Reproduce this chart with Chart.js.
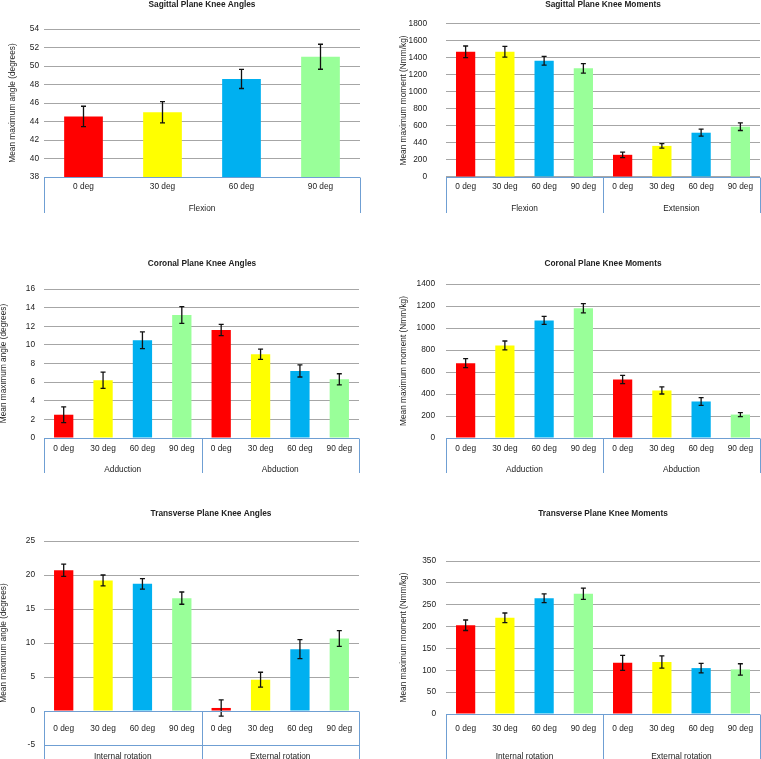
<!DOCTYPE html>
<html lang="en">
<head>
<meta charset="UTF-8">
<title>Knee angles and moments</title>
<script src="https://cdn.jsdelivr.net/npm/chart.js"></script>
<style>
  body { margin: 0; background: #fff; }
  #page { position: relative; width: 761px; height: 759px; overflow: hidden; }
  canvas { position: absolute; }
</style>
</head>
<body>
<div id="page">
  <canvas id="sagAngle"></canvas>
  <canvas id="sagMoment"></canvas>
  <canvas id="corAngle"></canvas>
  <canvas id="corMoment"></canvas>
  <canvas id="traAngle"></canvas>
  <canvas id="traMoment"></canvas>
</div>
<script>
// categories
const speeds = ['0 deg', '30 deg', '60 deg', '90 deg'];
const barColors = ['#ff0000', '#ffff00', '#00b0f0', '#99ff99'];

// sagittal plane
const sagAngleGroups = ['Flexion'];
const sagAngleMean = [44.55, 45.0, 48.6, 51.0];
const sagAngleErr = [1.1, 1.15, 1.03, 1.35];

const sagMomentGroups = ['Flexion', 'Extension'];
const sagMomentMean = [1473, 1473, 1368, 1278, 261, 366, 521, 592];
const sagMomentErr = [68, 63, 52, 55, 32, 27, 41, 45];
const sagMomentTicks = ['0', '200', '440', '600', '800', '1000', '1200', '1400', '1600', '1800'];

// coronal plane
const corAngleGroups = ['Adduction', 'Abduction'];
const corAngleMean = [2.5, 6.2, 10.5, 13.2, 11.6, 9.0, 7.2, 6.3];
const corAngleErr = [0.84, 0.87, 0.9, 0.9, 0.6, 0.55, 0.65, 0.6];

const corMomentGroups = ['Adduction', 'Abduction'];
const corMomentMean = [680, 842, 1069, 1179, 532, 432, 332, 213];
const corMomentErr = [41, 40, 36, 42, 37, 32, 35, 18];

// transverse plane
const traAngleGroups = ['Internal rotation', 'External rotation'];
const traAngleMean = [20.7, 19.2, 18.7, 16.6, 0.45, 4.6, 9.1, 10.66];
const traAngleErr = [0.9, 0.8, 0.77, 0.9, 1.2, 1.1, 1.4, 1.15];

const traMomentGroups = ['Internal rotation', 'External rotation'];
const traMomentMean = [203, 220, 265, 275, 117, 119, 105, 102];
const traMomentErr = [12, 11, 10, 13, 17, 14, 11, 13];

const FONT = '"Liberation Sans", Arial, sans-serif';
const FS = 8.3;
const GRID = '#a6a6a6';
const BOX = '#6f9fd3';
const TEXT = '#222';

// error bars, category box and titles
const decorPlugin = {
  id: 'decor',
  afterDatasetsDraw(chart) {
    const ctx = chart.ctx;
    const y = chart.scales.y;
    const ds = chart.data.datasets[0];
    const meta = chart.getDatasetMeta(0);
    ctx.save();
    ctx.strokeStyle = '#111';
    ctx.lineWidth = 1.3;
    meta.data.forEach((bar, i) => {
      const top = y.getPixelForValue(ds.data[i] + ds.errors[i]);
      const bot = y.getPixelForValue(ds.data[i] - ds.errors[i]);
      ctx.beginPath();
      ctx.moveTo(bar.x, top); ctx.lineTo(bar.x, bot);
      ctx.moveTo(bar.x - 2.5, top); ctx.lineTo(bar.x + 2.5, top);
      ctx.moveTo(bar.x - 2.5, bot); ctx.lineTo(bar.x + 2.5, bot);
      ctx.stroke();
    });
    ctx.restore();
  },
  afterDraw(chart, args, o) {
    const ctx = chart.ctx;
    const x = chart.scales.x;
    const y = chart.scales.y;
    const area = chart.chartArea;
    const n = chart.data.labels.length;
    const boxTop = Math.round(y.getPixelForValue(o.boxTopValue)) + 0.5;
    const boxBottom = o.boxBottom - o.top;
    ctx.save();
    ctx.strokeStyle = BOX;
    ctx.lineWidth = 1;
    ctx.beginPath();
    ctx.moveTo(area.left, boxTop); ctx.lineTo(area.right, boxTop);
    if (o.minLine) {
      const yb = Math.round(y.getPixelForValue(y.min)) + 0.5;
      ctx.moveTo(area.left, yb); ctx.lineTo(area.right, yb);
    }
    const edges = [area.left];
    o.groups.forEach((g, gi) => {
      if (gi > 0) edges.push(x.getPixelForValue(gi * 4 - 0.5));
    });
    edges.push(area.right);
    edges.forEach(ex => {
      const px = Math.round(ex) + 0.5;
      ctx.moveTo(px, boxTop); ctx.lineTo(px, boxBottom);
    });
    ctx.stroke();

    ctx.fillStyle = TEXT;
    ctx.font = FS + 'px ' + FONT;
    ctx.textAlign = 'center';
    ctx.textBaseline = 'middle';
    for (let i = 0; i < n; i++) {
      ctx.fillText(chart.data.labels[i], x.getPixelForValue(i), o.catY - o.top);
    }
    o.groups.forEach((g, gi) => {
      ctx.fillText(g, (edges[gi] + edges[gi + 1]) / 2, o.groupY - o.top);
    });

    ctx.font = 'bold ' + FS + 'px ' + FONT;
    ctx.fillText(o.title, o.titleX - o.left, o.titleY - o.top);

    ctx.font = FS + 'px ' + FONT;
    ctx.translate(o.yTitleX - o.left, (area.top + area.bottom) / 2);
    ctx.rotate(-Math.PI / 2);
    ctx.fillText(o.yTitle, 0, 0);
    ctx.restore();
  }
};

function makeChart(id, s) {
  const cv = document.getElementById(id);
  cv.width = s.cv.w;
  cv.height = s.cv.h;
  cv.style.left = s.cv.l + 'px';
  cv.style.top = s.cv.t + 'px';
  const labels = s.groups.flatMap(() => speeds);
  return new Chart(cv, {
    type: 'bar',
    data: {
      labels,
      datasets: [{
        data: s.mean,
        errors: s.err,
        backgroundColor: s.mean.map((v, i) => barColors[i % 4]),
        barPercentage: 1,
        categoryPercentage: 0.49
      }]
    },
    options: {
      responsive: false,
      animation: false,
      devicePixelRatio: 1,
      layout: {
        padding: {
          left: 0,
          top: s.plot.t - s.cv.t,
          right: s.cv.l + s.cv.w - s.plot.r,
          bottom: s.cv.t + s.cv.h - s.plot.b
        }
      },
      plugins: {
        legend: { display: false },
        tooltip: { enabled: false },
        decor: {
          left: s.cv.l, top: s.cv.t,
          title: s.title, titleX: s.titleX, titleY: s.titleY,
          yTitle: s.yTitle, yTitleX: s.yTitleX,
          groups: s.groups, boxTopValue: s.boxTopValue ?? s.min,
          boxBottom: s.boxBottom, catY: s.catY, groupY: s.groupY,
          minLine: !!s.minLine
        }
      },
      scales: {
        x: { display: false },
        y: {
          min: s.min, max: s.max,
          afterFit: sc => { sc.width = s.plot.l - s.cv.l; },
          border: { display: false },
          grid: { color: GRID, lineWidth: 1, drawTicks: false },
          ticks: {
            stepSize: s.step,
            padding: s.tickPad,
            color: TEXT,
            font: { family: FONT, size: FS },
            callback: (v, i) => s.tickLabels ? s.tickLabels[i] : String(v)
          }
        }
      }
    },
    plugins: [decorPlugin]
  });
}

makeChart('sagAngle', {
  cv: { l: 0, t: 0, w: 380, h: 250 }, plot: { l: 44, t: 29, r: 360, b: 177 },
  title: 'Sagittal Plane Knee Angles', titleX: 202, titleY: 5,
  yTitle: 'Mean maximum angle (degrees)', yTitleX: 12.5,
  groups: sagAngleGroups, mean: sagAngleMean, err: sagAngleErr,
  min: 38, max: 54, step: 2, tickPad: 5,
  boxBottom: 213, catY: 187, groupY: 209
});

makeChart('sagMoment', {
  cv: { l: 380, t: 0, w: 381, h: 250 }, plot: { l: 446, t: 23, r: 760, b: 177 },
  title: 'Sagittal Plane Knee Moments', titleX: 603, titleY: 5,
  yTitle: 'Mean maximum moment (Nmm/kg)', yTitleX: 404,
  groups: sagMomentGroups, mean: sagMomentMean, err: sagMomentErr,
  min: 0, max: 1800, step: 200, tickPad: 19, tickLabels: sagMomentTicks,
  boxBottom: 213, catY: 187, groupY: 209
});

makeChart('corAngle', {
  cv: { l: 0, t: 250, w: 380, h: 250 }, plot: { l: 44, t: 289, r: 359, b: 438 },
  title: 'Coronal Plane Knee Angles', titleX: 202, titleY: 264,
  yTitle: 'Mean maximum angle (degrees)', yTitleX: 3.5,
  groups: corAngleGroups, mean: corAngleMean, err: corAngleErr,
  min: 0, max: 16, step: 2, tickPad: 9,
  boxBottom: 473, catY: 448.5, groupY: 469.5
});

makeChart('corMoment', {
  cv: { l: 380, t: 250, w: 381, h: 250 }, plot: { l: 446, t: 284, r: 760, b: 438 },
  title: 'Coronal Plane Knee Moments', titleX: 603, titleY: 264,
  yTitle: 'Mean maximum moment (Nmm/kg)', yTitleX: 404,
  groups: corMomentGroups, mean: corMomentMean, err: corMomentErr,
  min: 0, max: 1400, step: 200, tickPad: 11,
  boxBottom: 473, catY: 448.5, groupY: 469.5
});

makeChart('traAngle', {
  cv: { l: 0, t: 500, w: 380, h: 259 }, plot: { l: 44, t: 541, r: 359, b: 748 },
  title: 'Transverse Plane Knee Angles', titleX: 211, titleY: 514,
  yTitle: 'Mean maximum angle (degrees)', yTitleX: 3.5,
  groups: traAngleGroups, mean: traAngleMean, err: traAngleErr,
  min: -5, max: 25, step: 5, tickPad: 9, boxTopValue: 0, minLine: true,
  boxBottom: 759, catY: 728.5, groupY: 757
});

makeChart('traMoment', {
  cv: { l: 380, t: 500, w: 381, h: 259 }, plot: { l: 446, t: 561, r: 760, b: 714 },
  title: 'Transverse Plane Knee Moments', titleX: 603, titleY: 514,
  yTitle: 'Mean maximum moment (Nmm/kg)', yTitleX: 404,
  groups: traMomentGroups, mean: traMomentMean, err: traMomentErr,
  min: 0, max: 350, step: 50, tickPad: 10,
  boxBottom: 759, catY: 728.5, groupY: 757
});
</script>
</body>
</html>
